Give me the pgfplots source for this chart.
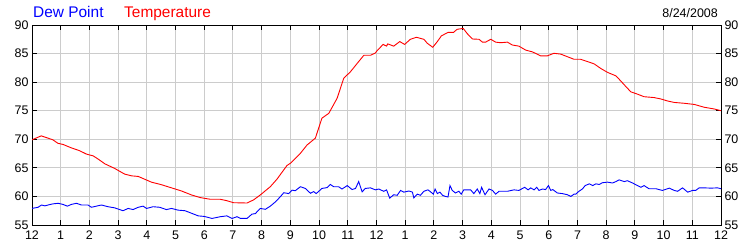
\documentclass[border=0pt]{standalone}
\usepackage{pgfplots}
\pgfplotsset{compat=1.18}
\usepackage{fontspec}
\setmainfont{Liberation Sans}
\definecolor{gridgray}{RGB}{204,204,204}
\begin{document}
\begin{tikzpicture}
\useasboundingbox (-32bp,-25bp) rectangle (718bp,225bp);
\begin{axis}[
  at={(0,0)}, anchor=south west,
  scale only axis, width=689bp, height=200bp,
  xmin=0, xmax=24, ymin=55, ymax=90,
  xtick={0,...,24},
  xticklabels={12,1,2,3,4,5,6,7,8,9,10,11,12,1,2,3,4,5,6,7,8,9,10,11,12},
  ytick={55,60,...,90},
  xtick pos=both, ytick pos=both,
  tick align=inside, major tick length=5bp,
  grid=major, major grid style={gridgray, line width=1bp},
  axis line style={black, line width=1bp},
  tick style={black, line width=1bp},
  ticklabel style={font=\fontsize{12.5}{14}\selectfont},
  /pgf/number format/assume math mode=true,
  xticklabel style={yshift=-2bp},
  axis on top=false,
]
\addplot[blue, line width=0.9bp] coordinates {
(0,57.9)(0.21,58.1)(0.33,58.5)(0.45,58.35)(0.56,58.5)(0.73,58.7)(0.91,58.8)(1.08,58.6)(1.23,58.3)(1.37,58.6)(1.55,58.8)(1.72,58.5)(1.95,58.5)(2.07,58.1)(2.24,58.3)(2.42,58.5)(2.65,58.2)(2.88,58.0)(3.17,57.5)(3.35,57.9)(3.52,57.7)(3.7,58.1)(3.87,58.3)(3.99,57.9)(4.22,58.2)(4.45,58.1)(4.68,57.7)(4.86,57.9)(5.09,57.6)(5.33,57.5)(5.56,57.05)(5.79,56.6)(6.0,56.5)(6.27,56.15)(6.56,56.45)(6.79,56.6)(6.97,56.15)(7.14,56.45)(7.26,56.15)(7.49,56.15)(7.66,56.9)(7.78,57.0)(7.95,57.9)(8.13,57.75)(8.3,58.3)(8.48,59.05)(8.65,59.95)(8.77,60.65)(8.94,60.5)(9.06,61.1)(9.17,61.0)(9.35,61.7)(9.52,61.4)(9.7,60.55)(9.81,60.85)(9.9,60.5)(10.1,61.4)(10.28,61.55)(10.39,62.1)(10.51,61.7)(10.68,61.7)(10.8,61.3)(10.98,61.9)(11.15,61.2)(11.27,61.4)(11.38,62.6)(11.5,60.8)(11.61,61.4)(11.79,61.5)(11.96,61.15)(12.08,61.3)(12.25,60.9)(12.35,61.15)(12.46,59.7)(12.6,60.3)(12.72,60.2)(12.84,61.05)(12.95,60.75)(13.13,60.95)(13.25,60.75)(13.3,59.75)(13.42,60.4)(13.53,60.2)(13.65,60.9)(13.79,61.15)(13.86,60.9)(13.98,60.4)(14.04,61.3)(14.12,60.5)(14.21,60.75)(14.3,60.2)(14.4,60.0)(14.49,59.9)(14.56,61.9)(14.64,61.05)(14.75,60.6)(14.87,60.9)(14.95,60.4)(15.04,61.15)(15.28,61.15)(15.39,60.5)(15.51,61.3)(15.6,60.5)(15.66,61.6)(15.78,60.3)(15.92,61.3)(16.04,61.05)(16.15,60.4)(16.27,60.9)(16.56,60.9)(16.79,61.15)(16.96,61.05)(17.16,61.6)(17.28,61.15)(17.37,61.5)(17.49,61.15)(17.58,61.6)(17.66,61.05)(17.78,61.3)(17.89,61.2)(17.99,61.9)(18.07,61.05)(18.14,61.2)(18.3,60.6)(18.47,60.5)(18.65,60.3)(18.77,60.0)(18.88,60.4)(18.94,60.4)(19.05,60.9)(19.17,61.3)(19.27,61.9)(19.41,62.2)(19.53,61.9)(19.64,62.2)(19.76,62.1)(19.87,62.4)(20.05,62.5)(20.22,62.35)(20.34,62.6)(20.45,62.9)(20.63,62.6)(20.74,62.75)(20.92,62.35)(21.09,61.9)(21.21,61.6)(21.32,61.9)(21.49,61.35)(21.73,61.35)(21.96,61.05)(22.2,61.45)(22.37,61.05)(22.49,60.9)(22.66,61.5)(22.84,60.75)(23.01,61.05)(23.12,61.05)(23.24,61.5)(23.42,61.5)(23.65,61.45)(23.88,61.5)(24,61.35)
};
\addplot[red, line width=0.9bp] coordinates {
(0,69.9)(0.32,70.6)(0.56,70.2)(0.73,69.9)(0.9,69.3)(1.08,69.1)(1.37,68.5)(1.66,68.0)(1.9,67.4)(2.13,67.1)(2.3,66.55)(2.54,65.7)(2.88,64.9)(3.23,63.9)(3.47,63.6)(3.7,63.5)(3.93,63.0)(4.16,62.5)(4.51,62.05)(4.86,61.5)(5.21,60.95)(5.56,60.25)(5.86,59.8)(6.21,59.5)(6.56,59.5)(6.79,59.25)(7.02,58.9)(7.49,58.85)(7.72,59.4)(7.95,60.25)(8.3,61.7)(8.53,63.0)(8.88,65.4)(9.0,65.8)(9.35,67.55)(9.58,69.0)(9.87,70.2)(10.1,73.7)(10.34,74.55)(10.63,77.2)(10.86,80.7)(11.09,81.8)(11.33,83.3)(11.56,84.7)(11.79,84.7)(11.96,85.1)(12.02,85.5)(12.23,86.6)(12.35,86.3)(12.39,86.7)(12.6,86.3)(12.81,87.1)(12.98,86.6)(13.18,87.5)(13.39,87.85)(13.65,87.5)(13.77,86.8)(13.96,86.1)(14.12,87.1)(14.26,88.1)(14.49,88.7)(14.68,88.7)(14.81,89.25)(15.02,89.4)(15.16,88.5)(15.34,87.55)(15.57,87.5)(15.69,87.0)(15.8,87.0)(15.98,87.5)(16.15,87.0)(16.32,86.9)(16.56,87.0)(16.73,86.5)(16.96,86.3)(17.2,85.6)(17.43,85.3)(17.72,84.6)(17.95,84.6)(18.18,85.05)(18.42,84.9)(18.65,84.45)(18.88,84.0)(19.11,84.0)(19.35,83.6)(19.58,83.2)(19.81,82.4)(20.05,81.7)(20.34,81.1)(20.51,80.2)(20.69,79.2)(20.86,78.3)(21.09,77.9)(21.32,77.45)(21.67,77.3)(21.91,77.05)(22.14,76.7)(22.37,76.45)(22.72,76.3)(23.07,76.1)(23.42,75.6)(23.77,75.3)(24,75.0)
};
\end{axis}
\begin{axis}[
  at={(0,0)}, anchor=south west,
  scale only axis, width=689bp, height=200bp,
  xmin=0, xmax=24, ymin=55, ymax=90,
  ytick={55,60,...,90},
  ytick pos=right, yticklabel pos=right,
  xtick=\empty, hide x axis,
  axis y line*=right,
  axis line style={draw=none},
  tick style={draw=none},
  ticklabel style={font=\fontsize{12.5}{14}\selectfont},
  /pgf/number format/assume math mode=true,
]
\addplot[draw=none] coordinates {(0,55)(24,90)};
\end{axis}
\node[anchor=base west, inner sep=0, text=blue, font=\fontsize{15.5}{18}\selectfont] at (1bp,207bp) {Dew Point};
\node[anchor=base west, inner sep=0, text=red, font=\fontsize{15.5}{18}\selectfont] at (92bp,207bp) {Temperature};
\node[anchor=base east, inner sep=0, font=\fontsize{12.5}{14}\selectfont] at (686bp,207bp) {8/24/2008};
\end{tikzpicture}
\end{document}
